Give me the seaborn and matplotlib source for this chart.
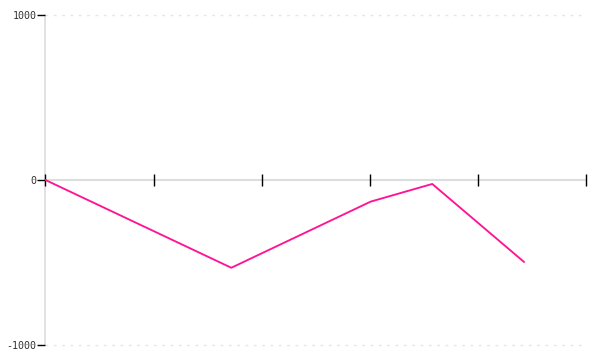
import matplotlib
matplotlib.use("Agg")
import matplotlib.pyplot as plt
import seaborn as sns
import pandas as pd

# data
x_positions = [0.0, 1.72, 3.01, 3.58, 4.43]
y_values = [0, -532, -131, -24, -497]
x_ticks = [0, 1, 2, 3, 4, 5]
y_ticks = [-1000, 0, 1000]
y_tick_labels = ["-1000", "0", "1000"]

sns.set_style("white")
plt.rcParams['font.family'] = ['DejaVu Sans Mono', 'DejaVu Sans']

df = pd.DataFrame({"x": x_positions, "y": y_values})

fig = plt.figure(figsize=(6, 3.6), dpi=100)
ax = fig.add_axes([0.0758, 0.0417, 0.9003, 0.9166])

sns.lineplot(data=df, x="x", y="y", ax=ax, color="#ff1493", linewidth=1.35, zorder=5)

ax.set_xlim(0, 5)
ax.set_ylim(-1000, 1000)

# dotted grid lines at +-1000
for yv in [-1000, 1000]:
    ax.axhline(yv, color="#e6e6e6", linewidth=1, linestyle=(0, (2, 4)), zorder=1, clip_on=False)

ax.spines['top'].set_visible(False)
ax.spines['right'].set_visible(False)
ax.spines['left'].set_color("#dddddd")
ax.spines['left'].set_linewidth(1.2)
ax.spines['bottom'].set_position(('data', 0))
ax.spines['bottom'].set_color("#dddddd")
ax.spines['bottom'].set_linewidth(1.5)
ax.xaxis.set_zorder(3)
ax.yaxis.set_zorder(3)

ax.set_xticks(x_ticks)
ax.set_xticklabels([])
ax.tick_params(axis='x', direction='inout', length=9, width=1, color='black', bottom=True)

ax.set_yticks(y_ticks)
ax.set_yticklabels(y_tick_labels, fontsize=7.2, color="#333333")
ax.tick_params(axis='y', direction='out', length=6, width=1, color='black', pad=0.5, left=True)

ax.set_xlabel("")
ax.set_ylabel("")
if ax.get_legend():
    ax.get_legend().remove()

fig.savefig("out.png", dpi=100)
